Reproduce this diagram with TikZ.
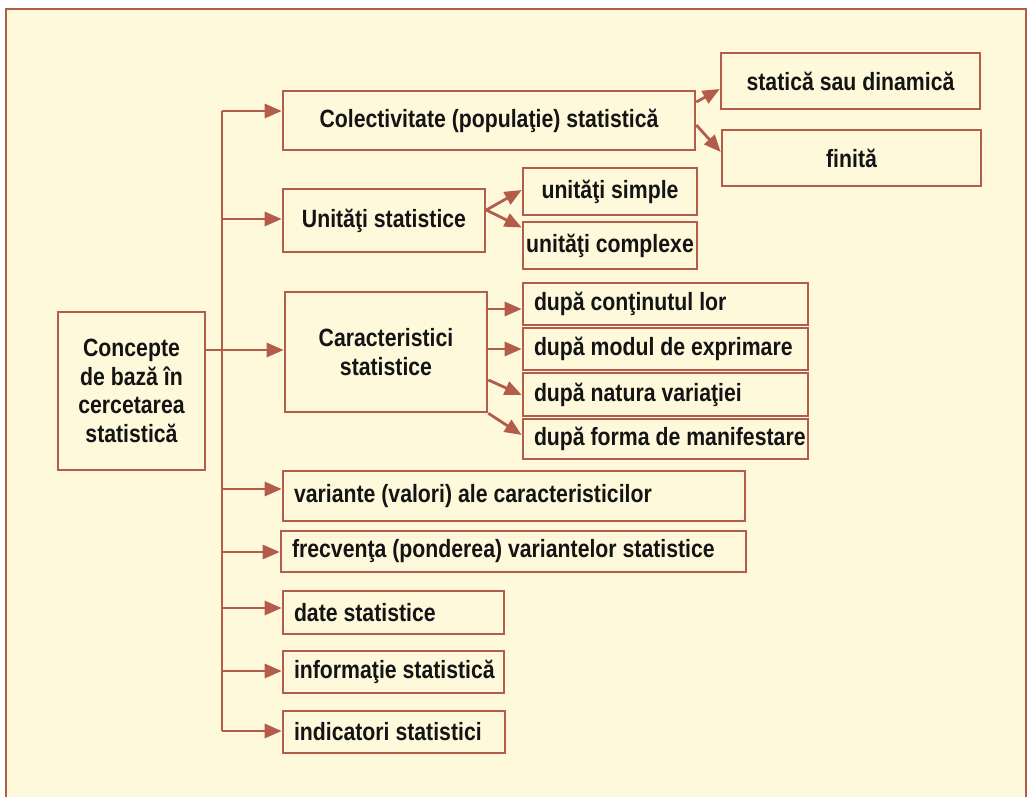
\documentclass[tikz,border=0pt]{standalone}
\usepackage{fontspec}
\setmainfont{Liberation Sans}[FakeStretch=0.85]
\usetikzlibrary{arrows.meta,calc}
\definecolor{lc}{HTML}{B35C4A}
\definecolor{bg}{HTML}{FFF9DC}
\definecolor{tx}{HTML}{141414}
\newcommand\cbx[6]{\node[box, minimum width={#4-#2}, minimum height={#5-#3}] (#1) at ({(#2+#4)/2},{(#3+#5)/2}) {#6};}
\newcommand\lbx[6]{\node[box, minimum width={#4-#2}, minimum height={#5-#3}] (#1) at ({(#2+#4)/2},{(#3+#5)/2}) {\makebox[\dimexpr #4pt-#2pt-22pt\relax][l]{#6}};}
\begin{document}
\begin{tikzpicture}[x=1pt,y=-1pt,
  box/.style={draw=lc, line width=2.6pt, fill=bg, inner sep=0pt, font=\fontsize{25}{28.5}\selectfont\bfseries, text=tx, align=center},
  arr/.style={draw=lc, line width=2.8pt, -{Triangle[length=17pt,width=14pt]}},
  ln/.style={draw=lc, line width=2.8pt}]
\useasboundingbox (0,0) rectangle (1028,797);
\clip (0,0) rectangle (1028,797);
\fill[white] (0,0) rectangle (1028,797);
\fill[bg] (6,9) rectangle (1026,810);
\draw[lc, line width=2.5pt] (6,810) -- (6,9) -- (1026,9) -- (1026,810);

% boxes
\cbx{conc}{58}{312}{205}{470}{Concepte\\de bază în\\cercetarea\\statistică}
\cbx{col}{283}{91}{695}{150}{Colectivitate (populaţie) statistică}
\cbx{stat}{721}{53}{980}{109}{statică sau dinamică}
\cbx{fin}{722}{130}{981}{186}{finită}
\cbx{uni}{283}{189}{485}{252}{Unităţi statistice}
\cbx{us}{523}{168}{697}{215}{unităţi simple}
\cbx{uc}{523}{222}{697}{269}{unităţi complexe}
\cbx{car}{285}{292}{487}{412}{Caracteristici\\statistice}
\lbx{d1}{523}{283}{808}{325}{după conţinutul lor}
\lbx{d2}{523}{328}{808}{370}{după modul de exprimare}
\lbx{d3}{523}{373}{808}{416}{după natura variaţiei}
\lbx{d4}{523}{419}{808}{459}{după forma de manifestare}
\lbx{var}{283}{471}{745}{521}{variante (valori) ale caracteristicilor}
\lbx{frq}{281}{531}{746}{572}{frecvenţa (ponderea) variantelor statistice}
\lbx{date}{283}{591}{504}{634}{date statistice}
\lbx{info}{283}{651}{504}{693}{informaţie statistică}
\lbx{ind}{283}{711}{505}{753}{indicatori statistici}

% trunk
\coordinate (t1) at (222,111);
\coordinate (t2) at (222,219);
\coordinate (t3) at (222,350);
\coordinate (t4) at (222,489);
\coordinate (t5) at (222,552);
\coordinate (t6) at (222,608);
\coordinate (t7) at (222,671);
\coordinate (t8) at (222,731);
\draw[ln] (t1) -- (t8);
\draw[arr] (t1) -- (t1 -| col.west);
\draw[arr] (t2) -- (t2 -| uni.west);
\draw[arr] (conc.east |- t3) -- (t3 -| car.west);
\draw[arr] (t4) -- (t4 -| var.west);
\draw[arr] (t5) -- (t5 -| frq.west);
\draw[arr] (t6) -- (t6 -| date.west);
\draw[arr] (t7) -- (t7 -| info.west);
\draw[arr] (t8) -- (t8 -| ind.west);

% branches
\coordinate (c1) at ($(col.east)+(0,-18.5)$);
\coordinate (c2) at ($(col.east)+(0,4.5)$);
\coordinate (u0) at ($(uni.east)+(0,-10.5)$);
\coordinate (k1) at ($(car.east)+(0,-43)$);
\coordinate (k2) at ($(car.east)+(0,-3)$);
\coordinate (k3) at ($(car.east)+(0,28)$);
\draw[arr] (c1) -- ($(stat.west)+(0,8)$);
\draw[arr] (c2) -- ($(fin.west)+(0,-6)$);
\draw[arr] (u0) -- ($(us.west)+(0,-1.5)$);
\draw[arr] (u0) -- ($(uc.west)+(0,-18)$);
\draw[arr] (k1) -- (k1 -| d1.west);
\draw[arr] (k2) -- (k2 -| d2.west);
\draw[arr] (k3) -- ($(d3.west)+(0,0.5)$);
\draw[arr] (car.south east) -- ($(d4.west)+(0,-4)$);
\end{tikzpicture}
\end{document}
